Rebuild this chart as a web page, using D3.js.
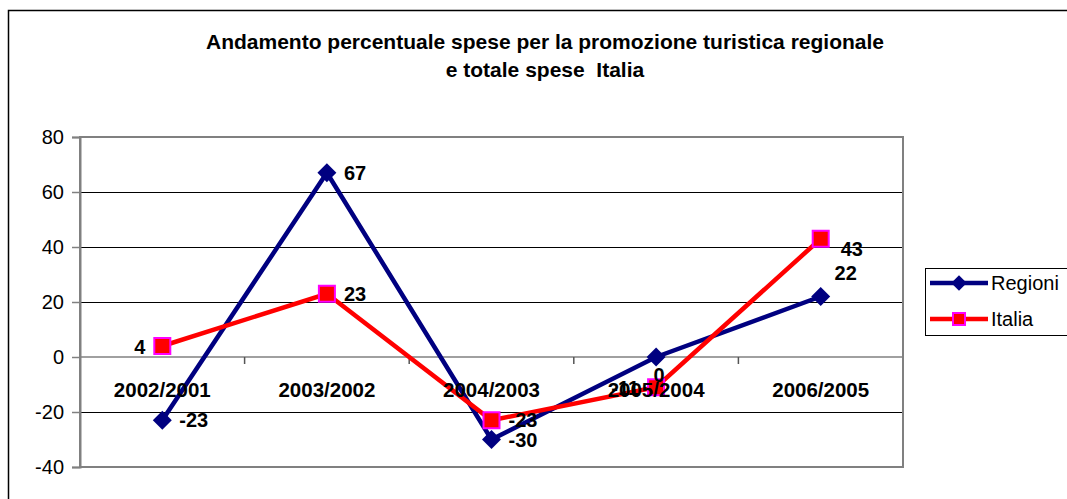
<!DOCTYPE html>
<html><head><meta charset="utf-8">
<script src="https://cdn.jsdelivr.net/npm/d3@7"></script>
<style>body{margin:0;background:#fff;}svg{display:block;font-family:Arial,"Liberation Sans",sans-serif;}</style>
</head><body><svg id="c" width="1067" height="499"></svg>
<script>
const categories = ["2002/2001","2003/2002","2004/2003","2005/2004","2006/2005"];
const regioni = [-23, 67, -30, 0, 22];
const italia = [4, 23, -23, -11, 43];
const yTicks = [-40, -20, 0, 20, 40, 60, 80];
const regioniLabelPos = ["right","right","right","below","aboveright"];
const italiaLabelPos = ["left","right","right","left","rightlow"];
const titleLines = ["Andamento percentuale spese per la promozione turistica regionale","e totale spese  Italia"];

const svg = d3.select("#c");
const plot = {l:80, r:903, t:137, b:467};

// outer chart border
svg.append("rect").attr("x",8.5).attr("y",10.5).attr("width",1100).attr("height",600)
  .attr("fill","#fff").attr("stroke","#000").attr("stroke-width",1.5);

const x = d3.scaleBand().domain(categories).range([plot.l, plot.r]).padding(0);
const y = d3.scaleLinear().domain([-40, 80]).range([plot.b, plot.t]);

// title
svg.append("g").selectAll("text").data(titleLines).join("text")
  .attr("x",545).attr("y",(d,i)=>49+i*28).attr("text-anchor","middle")
  .style("white-space","pre")
  .attr("font-weight","bold").attr("font-size",21).text(d=>d);

// gridlines
svg.append("g").selectAll("line").data(yTicks.filter(v=>v!==0 && v!==-40 && v!==80)).join("line")
  .attr("x1",plot.l).attr("x2",plot.r).attr("y1",d=>Math.round(y(d))+0.5).attr("y2",d=>Math.round(y(d))+0.5)
  .attr("stroke","#000").attr("stroke-width",1);

// plot border
svg.append("rect").attr("x",plot.l).attr("y",plot.t).attr("width",plot.r-plot.l).attr("height",plot.b-plot.t)
  .attr("fill","none").attr("stroke","#808080").attr("stroke-width",2);

// y axis
const yAxis = d3.axisLeft(y).tickValues(yTicks).tickSize(8).tickPadding(8).tickFormat(d=>String(d));
const gy = svg.append("g").attr("transform",`translate(${plot.l},0)`).call(yAxis);
gy.select(".domain").attr("stroke","#808080").attr("stroke-width",2);
gy.selectAll(".tick line").attr("stroke","#808080").attr("stroke-width",1.5);
gy.selectAll(".tick text").attr("font-size",20).attr("fill","#000").attr("font-family","Arial,'Liberation Sans',sans-serif");

// x axis at zero
const gx = svg.append("g").attr("transform",`translate(0,${y(0)})`);
gx.append("line").attr("x1",plot.l).attr("x2",plot.r).attr("stroke","#808080").attr("stroke-width",1.5);
gx.selectAll("line.tk").data(categories.slice(1)).join("line").attr("class","tk")
  .attr("x1",d=>x(d)).attr("x2",d=>x(d)).attr("y1",0).attr("y2",7).attr("stroke","#555").attr("stroke-width",1.5);

const cx = d => x(d) + x.bandwidth()/2;

function drawSeries(vals, color){
  const line = d3.line().x((d,i)=>cx(categories[i])).y(d=>y(d));
  svg.append("path").datum(vals).attr("d",line).attr("fill","none")
    .attr("stroke",color).attr("stroke-width",4.5).attr("stroke-linejoin","miter");
}
drawSeries(regioni, "#000080");
drawSeries(italia, "#ff0000");

// markers
svg.append("g").selectAll("path").data(regioni).join("path")
  .attr("d",d3.symbol().type(d3.symbolSquare).size(180))
  .attr("transform",(d,i)=>`translate(${cx(categories[i])},${y(d)}) rotate(45)`)
  .attr("fill","#000080");
svg.append("g").selectAll("rect").data(italia).join("rect")
  .attr("x",(d,i)=>cx(categories[i])-8).attr("y",d=>y(d)-8).attr("width",16).attr("height",16)
  .attr("fill","#ff0000").attr("stroke","#ff00ff").attr("stroke-width",2);

// data labels
const off = {right:[17,0,"start"], left:[-17,1,"end"], below:[3,18,"middle"], aboveright:[25,-24,"middle"], rightlow:[20,10,"start"]};
function labels(vals, pos){
  svg.append("g").selectAll("text").data(vals).join("text")
    .attr("x",(d,i)=>cx(categories[i])+off[pos[i]][0])
    .attr("y",(d,i)=>y(d)+off[pos[i]][1])
    .attr("dy","0.36em").attr("text-anchor",(d,i)=>off[pos[i]][2])
    .attr("font-weight","bold").attr("font-size",20).text(d=>d);
}
labels(regioni, regioniLabelPos);
labels(italia, italiaLabelPos);

// category labels
svg.append("g").selectAll("text").data(categories).join("text")
  .attr("x",d=>cx(d)).attr("y",y(0)+40).attr("text-anchor","middle")
  .attr("font-weight","bold").attr("font-size",20.5).text(d=>d);

// legend
const lg = svg.append("g");
lg.append("rect").attr("x",925.5).attr("y",268.5).attr("width",200).attr("height",67)
  .attr("fill","#fff").attr("stroke","#000").attr("stroke-width",1);
const legendItems = [{name:"Regioni", color:"#000080", type:"diamond"},{name:"Italia", color:"#ff0000", type:"square"}];
legendItems.forEach((it,i)=>{
  const ly = 283 + i*36;
  lg.append("line").attr("x1",930).attr("x2",988).attr("y1",ly).attr("y2",ly).attr("stroke",it.color).attr("stroke-width",4.5);
  if(it.type==="diamond"){
    lg.append("path").attr("d",d3.symbol().type(d3.symbolSquare).size(120)).attr("transform",`translate(959,${ly}) rotate(45)`).attr("fill",it.color);
  } else {
    lg.append("rect").attr("x",953).attr("y",ly-6).attr("width",12).attr("height",12).attr("fill","#ff0000").attr("stroke","#ff00ff").attr("stroke-width",2);
  }
  lg.append("text").attr("x",991).attr("y",ly).attr("dy","0.36em").attr("font-size",20).text(it.name);
});
</script></body></html>
